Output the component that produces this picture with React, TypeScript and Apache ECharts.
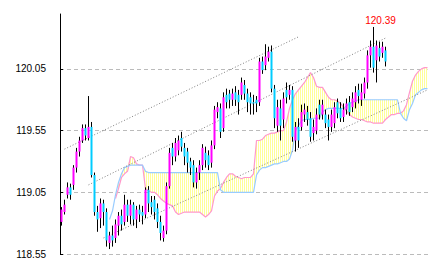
import React, { useEffect, useRef } from 'react';
import * as echarts from 'echarts';

// ---- data ----
const BASE = 118.55; // bottom of the price axis
const TOP = 120.495; // top of the price axis
const STEP = 0.5;
const yTickLabels = ['118.55', '119.05', '119.55', '120.05'];

const opens = [
  118.81, 118.89, 119.03, 119.09, 119.11, 119.25, 119.38, 119.47, 119.57, 119.49,
  119.58, 119.19, 118.89, 118.84, 118.96, 118.89, 118.64, 118.70, 118.68, 118.78,
  118.86, 118.81, 118.95, 118.86, 118.95, 118.83, 118.91, 118.89, 118.87, 119.07,
  118.97, 118.99, 118.92, 118.81, 118.68, 118.74, 119.10, 119.41, 119.34, 119.39,
  119.49, 119.41, 119.38, 119.30, 119.27, 119.13, 119.21, 119.27, 119.37, 119.35,
  119.29, 119.43, 119.70, 119.73, 119.57, 119.84, 119.85, 119.80, 119.86, 119.84,
  119.84, 119.92, 119.85, 119.82, 119.78, 119.80, 119.78, 120.11, 120.08, 120.14,
  120.19, 119.89, 119.59, 119.73, 119.64, 119.88, 119.84, 119.88, 119.47, 119.58,
  119.58, 119.68, 119.70, 119.65, 119.53, 119.55, 119.76, 119.68, 119.68, 119.64,
  119.58, 119.61, 119.78, 119.73, 119.66, 119.72, 119.78, 119.74, 119.78, 119.88,
  119.80, 119.85, 119.94, 120.16, 120.23, 120.12, 120.22, 120.18, 120.20,
];
const closes = [
  118.91, 118.95, 119.09, 119.03, 119.25, 119.38, 119.47, 119.57, 119.51, 119.58,
  119.19, 118.89, 118.83, 118.96, 118.89, 118.66, 118.70, 118.66, 118.79, 118.86,
  118.79, 118.95, 118.86, 118.95, 118.83, 118.91, 118.87, 118.86, 119.07, 118.96,
  118.93, 118.89, 118.81, 118.72, 118.74, 119.10, 119.37, 119.34, 119.45, 119.47,
  119.42, 119.34, 119.29, 119.25, 119.13, 119.21, 119.27, 119.41, 119.31, 119.27,
  119.43, 119.72, 119.74, 119.54, 119.82, 119.78, 119.80, 119.85, 119.80, 119.78,
  119.94, 119.85, 119.78, 119.77, 119.77, 119.77, 120.11, 120.04, 120.15, 120.19,
  119.89, 119.65, 119.74, 119.59, 119.81, 119.82, 119.88, 119.50, 119.58, 119.47,
  119.70, 119.72, 119.64, 119.50, 119.58, 119.68, 119.68, 119.76, 119.61, 119.58,
  119.68, 119.74, 119.69, 119.65, 119.72, 119.77, 119.70, 119.81, 119.86, 119.83,
  119.86, 119.94, 120.16, 120.23, 120.06, 120.24, 120.15, 120.23, 120.11,
];
const lows = [
  118.78, 118.87, 119.00, 118.99, 119.07, 119.21, 119.34, 119.45, 119.47, 119.47,
  119.17, 118.86, 118.73, 118.76, 118.78, 118.61, 118.59, 118.61, 118.64, 118.70,
  118.74, 118.78, 118.81, 118.79, 118.78, 118.76, 118.81, 118.79, 118.84, 118.89,
  118.87, 118.83, 118.76, 118.66, 118.65, 118.71, 119.08, 119.27, 119.30, 119.35,
  119.38, 119.27, 119.21, 119.19, 119.09, 119.08, 119.15, 119.23, 119.25, 119.23,
  119.25, 119.40, 119.65, 119.49, 119.54, 119.73, 119.73, 119.75, 119.75, 119.68,
  119.80, 119.80, 119.70, 119.68, 119.68, 119.70, 119.75, 120.01, 120.04, 120.11,
  119.86, 119.57, 119.54, 119.47, 119.57, 119.77, 119.80, 119.46, 119.38, 119.41,
  119.55, 119.62, 119.59, 119.46, 119.47, 119.52, 119.64, 119.64, 119.57, 119.47,
  119.54, 119.57, 119.65, 119.62, 119.62, 119.68, 119.67, 119.70, 119.73, 119.77,
  119.75, 119.81, 119.89, 120.06, 120.02, 119.94, 120.11, 120.14, 120.07,
];
const highs = [
  118.93, 118.99, 119.13, 119.12, 119.27, 119.41, 119.50, 119.60, 119.60, 119.83,
  119.62, 119.21, 118.94, 119.00, 118.99, 118.92, 118.73, 118.78, 118.83, 118.89,
  118.91, 119.03, 118.99, 118.99, 118.97, 118.94, 118.95, 118.94, 119.09, 119.10,
  119.02, 119.02, 118.96, 118.86, 118.78, 119.13, 119.41, 119.45, 119.49, 119.51,
  119.54, 119.45, 119.41, 119.33, 119.31, 119.25, 119.31, 119.44, 119.42, 119.39,
  119.47, 119.75, 119.78, 119.77, 119.86, 119.89, 119.88, 119.89, 119.91, 119.88,
  119.98, 119.96, 119.89, 119.86, 119.84, 119.83, 120.14, 120.15, 120.25, 120.23,
  120.24, 119.92, 119.80, 119.80, 119.86, 119.94, 119.92, 119.91, 119.62, 119.65,
  119.76, 119.77, 119.75, 119.70, 119.64, 119.73, 119.80, 119.80, 119.72, 119.68,
  119.72, 119.78, 119.81, 119.78, 119.77, 119.81, 119.83, 119.86, 119.91, 119.93,
  119.93, 119.98, 120.20, 120.28, 120.39, 120.28, 120.27, 120.27, 120.23,
];

const N = null;
// leading span (pink) and base span (light blue), shifted ahead of price
const spanA = [
  N, N, N, N, N, N, N, N, N, N, N, N, N, N, N, N, N, N,
  119.00, 119.08, 119.17, 119.20, 119.22, 119.34, 119.33, 119.28, 119.27, 119.27,
  119.08, 119.06, 119.05, 119.05, 119.03, 119.00, 118.98, 118.96, 118.95, 118.94,
  118.89, 118.87, 118.88, 118.89, 118.89, 118.89, 118.89, 118.89, 118.89, 118.87,
  118.85, 118.87, 118.90, 119.02, 119.06, 119.08, 119.13, 119.17, 119.20, 119.20,
  119.18, 119.17, 119.16, 119.17, 119.17, 119.17, 119.20, 119.47, 119.47, 119.48,
  119.51, 119.52, 119.53, 119.53, 119.54, 119.55, 119.55, 119.62, 119.73, 119.80,
  119.85, 119.88, 119.91, 119.94, 119.98, 120.02, 119.98, 119.91, 119.90, 119.90,
  119.86, 119.82, 119.80, 119.80, 119.79, 119.77, 119.74, 119.71, 119.68, 119.66,
  119.65, 119.64, 119.64, 119.63, 119.62, 119.62, 119.61, 119.61, 119.61, 119.61,
  119.64, 119.66, 119.68, 119.68, 119.69, 119.69, 119.71, 119.76, 119.86, 119.95,
  120.00, 120.03, 120.05, 120.06, 120.06,
];
const spanB = [
  N, N, N, N, N, N, N, N, N, N, N, N, N, N, N, N,
  118.83, 118.90, 119.03, 119.13, 119.20, 119.25, 119.26, 119.27, 119.27, 119.27,
  119.27, 119.27, 119.22, 119.21, 119.21, 119.21, 119.21, 119.21, 119.21, 119.21,
  119.21, 119.21, 119.21, 119.21, 119.21, 119.21, 119.21, 119.21, 119.21, 119.21,
  119.21, 119.21, 119.21, 119.21, 119.21, 119.21, 119.21, 119.07, 119.05, 119.05,
  119.05, 119.05, 119.05, 119.05, 119.05, 119.05, 119.05, 119.05, 119.05, 119.19,
  119.23, 119.25, 119.25, 119.26, 119.27, 119.28, 119.28, 119.29, 119.30, 119.30,
  119.32, 119.39, 119.55, 119.59, 119.63, 119.64, 119.64, 119.64, 119.65, 119.65,
  119.65, 119.70, 119.72, 119.73, 119.73, 119.73, 119.73, 119.73, 119.73, 119.75,
  119.77, 119.78, 119.79, 119.80, 119.80, 119.80, 119.80, 119.80, 119.80, 119.80,
  119.80, 119.80, 119.80, 119.80, 119.80, 119.80, 119.80, 119.69, 119.65, 119.63,
  119.72, 119.77, 119.84, 119.86, 119.88, 119.89, 119.89,
];

// dotted trend lines: [index, price] end points
const trendUpper = [[1, 119.40], [79, 120.31]];
const trendMiddle = [[9, 119.11], [108, 120.30]];
const trendLower = [[14, 118.68], [122, 119.88]];

export default function App() {
  const ref = useRef<HTMLDivElement>(null);
  useEffect(() => {
    const chart = echarts.init(ref.current!, null, { renderer: 'svg' });
    const off = (v: number | null) => (v == null ? null : +(v - BASE).toFixed(4));
    const n = spanA.length;
    const cats = Array.from({ length: n }, (_, i) => String(i));
    const bodies = opens.map((o, i) => {
      const c = closes[i];
      return [off(o), off(c), off(Math.min(o, c)), off(Math.max(o, c))];
    });
    const wicks = lows.map((l, i) => [off(l), off(highs[i]), off(l), off(highs[i])]);
    const cloudBase = spanA.map((a, i) => {
      const b = spanB[i];
      return a == null || b == null ? null : off(Math.min(a, b));
    });
    const cloudDiff = spanA.map((a, i) => {
      const b = spanB[i];
      return a == null || b == null ? null : +Math.abs(a - b).toFixed(4);
    });
    const maxHigh = Math.max(...highs);

    const cv = document.createElement('canvas');
    cv.width = 2;
    cv.height = 1;
    const ctx = cv.getContext('2d')!;
    ctx.fillStyle = '#ffff99';
    ctx.fillRect(0, 0, 1, 1);
    ctx.fillStyle = '#ffffff';
    ctx.fillRect(1, 0, 1, 1);

    const trend = (pts: number[][]) => ({
      type: 'line',
      data: pts.map((p) => [p[0], off(p[1])]),
      symbol: 'none',
      silent: true,
      lineStyle: { color: '#808080', width: 1, type: [1, 2] },
      z: 3,
    });

    chart.setOption({
      animation: false,
      backgroundColor: '#ffffff',
      grid: { left: 60, right: 5, top: 14, bottom: 14, containLabel: false, outerBoundsMode: 'none' },
      xAxis: {
        type: 'category',
        data: cats,
        boundaryGap: true,
        axisLine: { show: false },
        axisTick: { show: false },
        axisLabel: { show: false },
        splitLine: { show: false },
      },
      yAxis: {
        type: 'value',
        min: 0,
        max: +(TOP - BASE).toFixed(4),
        interval: STEP,
        axisLine: { show: true, lineStyle: { color: '#000000', width: 1 } },
        axisTick: { show: true, inside: true, length: 3, lineStyle: { color: '#000000' } },
        axisLabel: {
          show: true,
          color: '#000000',
          fontSize: 10,
          fontFamily: 'Liberation Sans',
          margin: 14,
          showMaxLabel: false,
          formatter: (v: number) => yTickLabels[Math.round(v / STEP)] ?? '',
        },
        splitLine: {
          show: true,
          showMaxLine: false,
          lineStyle: { color: '#bbbbbb', width: 1, type: [4, 3] },
        },
      },
      series: [
        {
          type: 'line',
          stack: 'cloud',
          data: cloudBase,
          symbol: 'none',
          silent: true,
          lineStyle: { width: 0, opacity: 0 },
          z: 1,
        },
        {
          type: 'line',
          stack: 'cloud',
          data: cloudDiff,
          symbol: 'none',
          silent: true,
          lineStyle: { width: 0, opacity: 0 },
          areaStyle: { color: { image: cv, repeat: 'repeat' }, opacity: 1 },
          z: 1,
        },
        {
          type: 'line',
          data: spanA.map(off),
          symbol: 'none',
          silent: true,
          lineStyle: { color: '#ff99cc', width: 1.2 },
          z: 2,
        },
        {
          type: 'line',
          data: spanB.map(off),
          symbol: 'none',
          silent: true,
          lineStyle: { color: '#99ccff', width: 1.2 },
          z: 2,
        },
        trend(trendUpper),
        trend(trendMiddle),
        trend(trendLower),
        {
          type: 'candlestick',
          data: wicks,
          barWidth: 1,
          silent: true,
          itemStyle: { color: '#000000', color0: '#000000', borderColor: '#000000', borderColor0: '#000000', borderWidth: 1 },
          z: 4,
          markPoint: {
            symbol: 'circle',
            symbolSize: 1,
            itemStyle: { color: 'rgba(0,0,0,0)' },
            data: [{ type: 'max', valueDim: 'highest' }],
            label: {
              show: true,
              position: 'top',
              distance: 4,
              offset: [7, 3],
              color: '#ff0000',
              fontSize: 10,
              fontFamily: 'Liberation Sans',
              formatter: () => maxHigh.toFixed(2),
            },
          },
        },
        {
          type: 'candlestick',
          data: bodies,
          barWidth: 3,
          silent: true,
          itemStyle: { color: '#ff00ff', color0: '#00ccff', borderColor: '#ff00ff', borderColor0: '#00ccff', borderWidth: 0 },
          z: 5,
        },
      ],
    });
    return () => chart.dispose();
  }, []);
  return <div ref={ref} style={{ position: 'absolute', left: 0, top: 0, width: 434, height: 268 }} />;
}
